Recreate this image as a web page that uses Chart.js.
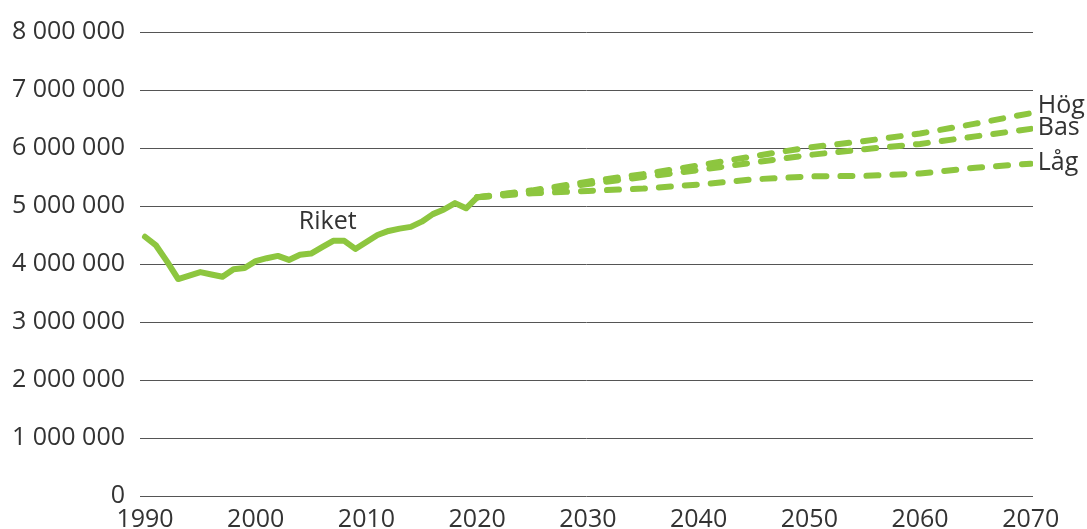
<!DOCTYPE html>
<html>
<head>
<meta charset="utf-8">
<script src="https://cdn.jsdelivr.net/npm/chart.js@4.4.1/dist/chart.umd.min.js"></script>
<style>
  html, body { margin: 0; padding: 0; background: #fff; }
  #wrap { width: 1087px; height: 529px; }
</style>
</head>
<body>
<div id="wrap"><canvas id="chart"></canvas></div>
<script>
// Befolkning, utfall 1990-2020
const riketYears = [1990, 1991, 1992, 1993, 1994, 1995, 1996, 1997, 1998, 1999,
  2000, 2001, 2002, 2003, 2004, 2005, 2006, 2007, 2008, 2009,
  2010, 2011, 2012, 2013, 2014, 2015, 2016, 2017, 2018, 2019, 2020];
const riket = [4470000, 4320000, 4040000, 3740000, 3800000, 3860000, 3820000, 3780000, 3910000, 3930000,
  4050000, 4100000, 4140000, 4070000, 4160000, 4180000, 4290000, 4400000, 4400000, 4260000,
  4380000, 4500000, 4570000, 4610000, 4640000, 4730000, 4860000, 4940000, 5050000, 4960000, 5150000];

// Prognoser 2020-2070
const progYears = [2020, 2025, 2030, 2035, 2040, 2045, 2050, 2055, 2060, 2065, 2070];
const hog = [5150000, 5270000, 5420000, 5550000, 5700000, 5860000, 6010000, 6120000, 6250000, 6420000, 6600000];
const bas = [5150000, 5260000, 5380000, 5500000, 5620000, 5750000, 5880000, 5980000, 6070000, 6200000, 6330000];
const lag = [5150000, 5220000, 5260000, 5300000, 5370000, 5460000, 5510000, 5520000, 5560000, 5660000, 5730000];

const xTicks = [1990, 2000, 2010, 2020, 2030, 2040, 2050, 2060, 2070];

// Textetiketter vid linjerna (år, värde)
const seriesLabels = [
  { text: 'Riket', year: 2006.5, value: 4720000, align: 'center' },
  { text: 'Hög', year: 2070, value: 6720000, align: 'left' },
  { text: 'Bas', year: 2070, value: 6340000, align: 'left' },
  { text: 'Låg', year: 2070, value: 5740000, align: 'left' }
];

const green = '#8dc63f';
const textColor = '#333333';
const fontFamily = '"Open Sans", "Noto Sans", sans-serif';
const fontSize = 25;

const toPoints = (xs, ys) => xs.map((x, i) => ({ x: x, y: ys[i] }));

const fmt = v => String(v).replace(/\B(?=(\d{3})+(?!\d))/g, ' ');

const labelPlugin = {
  id: 'seriesLabels',
  afterDatasetsDraw(chart) {
    const ctx = chart.ctx;
    const xs = chart.scales.x;
    const ys = chart.scales.y;
    ctx.save();
    ctx.font = fontSize + 'px ' + fontFamily;
    ctx.fillStyle = textColor;
    ctx.textBaseline = 'middle';
    seriesLabels.forEach(l => {
      let x = xs.getPixelForValue(l.year);
      if (l.align === 'left') x += 7;
      ctx.textAlign = l.align;
      ctx.fillText(l.text, x, ys.getPixelForValue(l.value));
    });
    ctx.restore();
  }
};

const lineStyle = {
  borderColor: green,
  borderWidth: 6,
  pointRadius: 0,
  tension: 0,
  borderCapStyle: 'round',
  borderJoinStyle: 'round',
  fill: false
};

new Chart(document.getElementById('chart'), {
  type: 'line',
  data: {
    datasets: [
      Object.assign({ label: 'Riket', data: toPoints(riketYears, riket) }, lineStyle),
      Object.assign({ label: 'Hög', data: toPoints(progYears, hog), borderDash: [12, 14] }, lineStyle),
      Object.assign({ label: 'Bas', data: toPoints(progYears, bas), borderDash: [12, 14] }, lineStyle),
      Object.assign({ label: 'Låg', data: toPoints(progYears, lag), borderDash: [12, 14] }, lineStyle)
    ]
  },
  options: {
    responsive: true,
    maintainAspectRatio: false,
    animation: false,
    layout: { padding: { top: 32, right: 54, bottom: 0, left: 0 } },
    plugins: {
      legend: { display: false },
      tooltip: { enabled: false }
    },
    scales: {
      x: {
        type: 'linear',
        min: 1989.55,
        max: 2070.2,
        afterBuildTicks: scale => { scale.ticks = xTicks.map(v => ({ value: v })); },
        afterFit: scale => { scale.height = 33; },
        grid: { display: false, drawTicks: false },
        border: { display: false },
        ticks: {
          padding: 9,
          color: textColor,
          font: { family: fontFamily, size: fontSize },
          callback: v => String(v)
        }
      },
      y: {
        min: 0,
        max: 8000000,
        afterFit: scale => { scale.width = 140; },
        grid: { color: '#555555', lineWidth: 1, drawTicks: false },
        border: { display: false },
        ticks: {
          stepSize: 1000000,
          padding: 15,
          color: textColor,
          font: { family: fontFamily, size: fontSize },
          callback: v => fmt(v)
        }
      }
    }
  },
  plugins: [labelPlugin]
});
</script>
</body>
</html>
